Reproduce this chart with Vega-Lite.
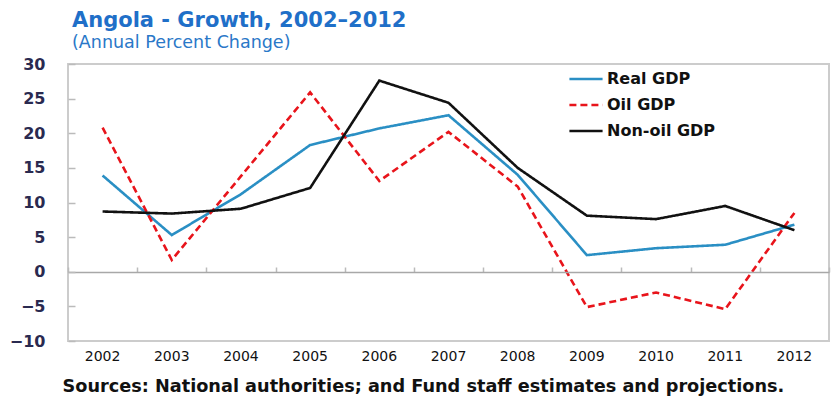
{
  "$schema": "https://vega.github.io/schema/vega-lite/v6.json",
  "autosize": "none",
  "width": 761,
  "height": 277,
  "padding": {"left": 68, "top": 64, "right": 4, "bottom": 58},
  "background": "white",
  "title": {
    "text": "Angola - Growth, 2002–2012",
    "subtitle": "(Annual Percent Change)",
    "anchor": "start",
    "frame": "group",
    "offset": 5,
    "dx": 4,
    "font": "DejaVu Sans",
    "fontSize": 21,
    "fontWeight": "bold",
    "color": "#1f6fc8",
    "subtitleFont": "DejaVu Sans",
    "subtitleFontSize": 17.5,
    "subtitleColor": "#2a78c8",
    "subtitlePadding": 3
  },
  "config": {
    "view": {"stroke": "#cccccc", "strokeWidth": 2},
    "font": "DejaVu Sans"
  },
  "data": {
    "values": [
      {"year": "2002", "series": "Real GDP", "value": 13.9},
      {"year": "2003", "series": "Real GDP", "value": 5.3},
      {"year": "2004", "series": "Real GDP", "value": 11.2},
      {"year": "2005", "series": "Real GDP", "value": 18.3},
      {"year": "2006", "series": "Real GDP", "value": 20.7},
      {"year": "2007", "series": "Real GDP", "value": 22.6},
      {"year": "2008", "series": "Real GDP", "value": 14.0},
      {"year": "2009", "series": "Real GDP", "value": 2.4},
      {"year": "2010", "series": "Real GDP", "value": 3.4},
      {"year": "2011", "series": "Real GDP", "value": 3.9},
      {"year": "2012", "series": "Real GDP", "value": 6.8},
      {"year": "2002", "series": "Oil GDP", "value": 20.8},
      {"year": "2003", "series": "Oil GDP", "value": 1.7},
      {"year": "2004", "series": "Oil GDP", "value": 13.8},
      {"year": "2005", "series": "Oil GDP", "value": 25.9},
      {"year": "2006", "series": "Oil GDP", "value": 13.1},
      {"year": "2007", "series": "Oil GDP", "value": 20.2},
      {"year": "2008", "series": "Oil GDP", "value": 12.3},
      {"year": "2009", "series": "Oil GDP", "value": -5.1},
      {"year": "2010", "series": "Oil GDP", "value": -3.0},
      {"year": "2011", "series": "Oil GDP", "value": -5.4},
      {"year": "2012", "series": "Oil GDP", "value": 8.5},
      {"year": "2002", "series": "Non-oil GDP", "value": 8.7},
      {"year": "2003", "series": "Non-oil GDP", "value": 8.4},
      {"year": "2004", "series": "Non-oil GDP", "value": 9.1},
      {"year": "2005", "series": "Non-oil GDP", "value": 12.1},
      {"year": "2006", "series": "Non-oil GDP", "value": 27.6},
      {"year": "2007", "series": "Non-oil GDP", "value": 24.4},
      {"year": "2008", "series": "Non-oil GDP", "value": 15.0},
      {"year": "2009", "series": "Non-oil GDP", "value": 8.1},
      {"year": "2010", "series": "Non-oil GDP", "value": 7.6},
      {"year": "2011", "series": "Non-oil GDP", "value": 9.5},
      {"year": "2012", "series": "Non-oil GDP", "value": 6.0}
    ]
  },
  "resolve": {"axis": {"x": "independent"}},
  "layer": [
    {
      "mark": {"type": "point", "opacity": 0},
      "encoding": {
        "x": {
          "field": "year",
          "type": "ordinal",
          "scale": {"type": "band", "paddingInner": 0, "paddingOuter": 0},
          "axis": {
            "orient": "bottom",
            "offset": -69,
            "zindex": 1,
            "labels": false,
            "title": null,
            "domain": true,
            "domainColor": "#a8a8a8",
            "domainWidth": 1.5,
            "ticks": true,
            "tickBand": "extent",
            "tickSize": -5,
            "tickColor": "#bbbbbb",
            "tickWidth": 1.5
          }
        },
        "y": {
          "field": "value",
          "type": "quantitative",
          "scale": {"domain": [-10, 30]},
          "axis": {
            "values": [-10, -5, 0, 5, 10, 15, 20, 25, 30],
            "zindex": 1,
            "title": null,
            "grid": false,
            "domain": false,
            "tickSize": -7,
            "tickColor": "#bbbbbb",
            "tickWidth": 1.5,
            "labelFontSize": 16,
            "labelFontWeight": "bold",
            "labelColor": "#2a2a50",
            "labelPadding": 30
          }
        }
      }
    },
    {
      "mark": {"type": "line", "strokeWidth": 2.6},
      "encoding": {
        "x": {
          "field": "year",
          "type": "ordinal",
          "axis": {
            "orient": "bottom",
            "labelAngle": 0,
            "labelFontSize": 14,
            "labelColor": "#111111",
            "labelPadding": 8,
            "ticks": false,
            "domain": false,
            "title": "Sources: National authorities; and Fund staff estimates and projections.",
            "titleFontSize": 17.7,
            "titleFontWeight": "bold",
            "titleColor": "#111111",
            "titleAnchor": "start",
            "titleAlign": "left",
            "titleX": -6,
            "titlePadding": 14
          }
        },
        "y": {
          "field": "value",
          "type": "quantitative",
          "scale": {"domain": [-10, 30]},
          "axis": {
            "values": [-10, -5, 0, 5, 10, 15, 20, 25, 30],
            "zindex": 1,
            "title": null,
            "grid": false,
            "domain": false,
            "tickSize": -7,
            "tickColor": "#bbbbbb",
            "tickWidth": 1.5,
            "labelFontSize": 16,
            "labelFontWeight": "bold",
            "labelColor": "#2a2a50",
            "labelPadding": 30
          }
        },
        "color": {
          "field": "series",
          "type": "nominal",
          "scale": {
            "domain": ["Real GDP", "Oil GDP", "Non-oil GDP"],
            "range": ["#2a8fc4", "#e8141b", "#111111"]
          },
          "legend": {
            "orient": "none",
            "legendX": 500,
            "legendY": -3,
            "title": null,
            "symbolType": "stroke",
            "symbolSize": 1100,
            "symbolStrokeWidth": 2.6,
            "labelFontSize": 16,
            "labelFontWeight": "bold",
            "labelColor": "#111111",
            "labelOffset": 3,
            "rowPadding": -9
          }
        },
        "strokeDash": {
          "field": "series",
          "type": "nominal",
          "scale": {
            "domain": ["Real GDP", "Oil GDP", "Non-oil GDP"],
            "range": [[1, 0], [7, 4], [1, 0]]
          },
          "legend": {
            "orient": "none",
            "legendX": 500,
            "legendY": -3,
            "title": null
          }
        }
      }
    }
  ]
}
